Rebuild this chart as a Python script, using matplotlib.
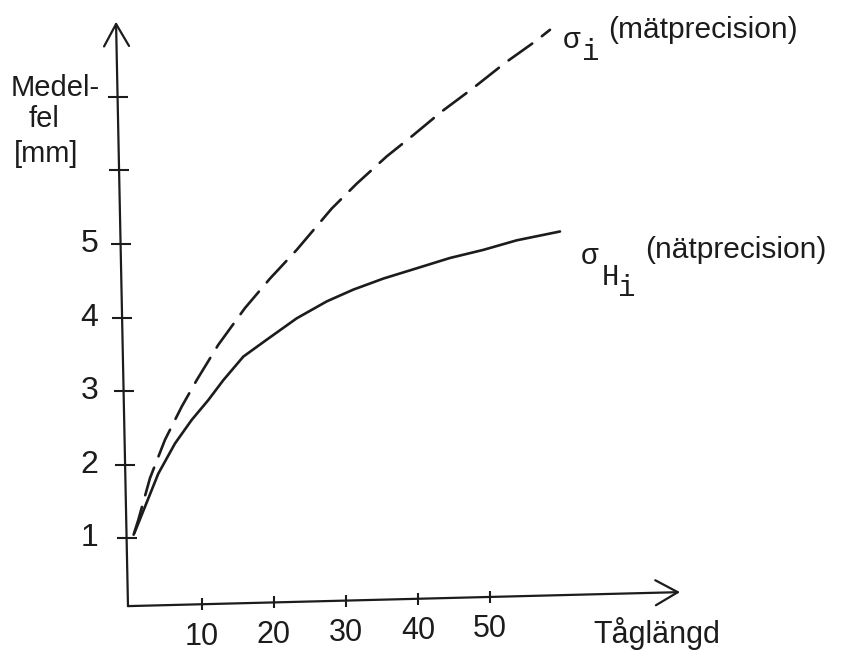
import matplotlib
matplotlib.use("Agg")
import matplotlib.pyplot as plt

plt.rcParams['font.family'] = ['Liberation Sans', 'DejaVu Sans']

# avlästa punkter ur figuren (x = tåglängd, y = medelfel i mm)
x_nat = [0.6, 2.08, 3.93, 6.25, 8.57, 10.88, 12.96, 15.74, 18.99, 23.15, 27.32,
         31.01, 35.18, 39.82, 44.44, 49.07, 53.71, 59.72]
y_nat = [1.07, 1.43, 1.88, 2.29, 2.61, 2.88, 3.15, 3.47, 3.70, 3.99, 4.22,
         4.38, 4.53, 4.67, 4.81, 4.92, 5.05, 5.17]

x_mat = [0.5, 1.15, 2.78, 4.86, 7.18, 9.26, 12.26, 15.97, 19.44, 23.15, 28.0,
         31.49, 35.65, 39.35, 43.29, 47.68, 52.08, 56.25, 58.33]
y_mat = [1.05, 1.25, 1.82, 2.34, 2.79, 3.15, 3.63, 4.13, 4.53, 4.92, 5.48,
         5.82, 6.19, 6.48, 6.80, 7.12, 7.46, 7.75, 7.91]

x_ticks = [10, 20, 30, 40, 50]
x_ticklabels = ["10", "20", "30", "40", "50"]
y_ticks = [1, 2, 3, 4, 5, 6, 7]
y_ticklabels = ["1", "2", "3", "4", "5", "", ""]

ink = '#1c1c1c'

fig = plt.figure(figsize=(8.41, 6.54), dpi=100)
ax = fig.add_axes([0, 0, 1, 1])
ax.set_xlim(-130 / 7.2, (841 - 130) / 7.2)
ax.set_ylim((612 - 654) / 73.6, 612 / 73.6)
ax.axis('off')

# handritade axlar, lite sneda
def yaxis_x(v):
    return -0.28 - 1.66 * (v - 0.08) / 7.94

def xaxis_y(x):
    return 0.08 + 0.19 * x / 76.4

arrow = dict(arrowstyle='->,head_length=0.8,head_width=0.45', lw=1.6, color=ink,
             shrinkA=0, shrinkB=0, mutation_scale=20)
ax.annotate('', xy=(yaxis_x(8.02), 8.02), xytext=(yaxis_x(0.08), 0.08), arrowprops=arrow)
ax.annotate('', xy=(76.4, xaxis_y(76.4)), xytext=(yaxis_x(0.08), 0.08), arrowprops=arrow)

# tickmarkeringar
ax.plot([yaxis_x(v) for v in y_ticks], y_ticks, ls='none', marker='_', ms=14, mew=1.5, color=ink)
ax.plot(x_ticks, [xaxis_y(x) for x in x_ticks], ls='none', marker='|', ms=9, mew=1.5, color=ink)

for v, lab in zip(y_ticks, y_ticklabels):
    ax.text(-5.6, v, lab, ha='center', va='center', fontsize=23, color=ink)
for x, lab in zip(x_ticks, x_ticklabels):
    ax.text(x, xaxis_y(x) - 0.44, lab, ha='center', va='center', fontsize=22, color=ink)

ax.text(73.1, -0.29, "Tåglängd", ha='center', va='center', fontsize=22, color=ink)
ax.text(-10.4, 7.12, "Medel-", ha='center', va='center', fontsize=21, color=ink)
ax.text(-11.9, 6.70, "fel", ha='center', va='center', fontsize=21, color=ink)
ax.text(-11.6, 6.22, "[mm]", ha='center', va='center', fontsize=21, color=ink)

# kurvorna
ax.plot(x_nat, y_nat, color=ink, lw=1.9, solid_capstyle='round', solid_joinstyle='round')
ax.plot(x_mat, y_mat, color=ink, lw=1.9, dashes=(11, 4.6), dash_capstyle='round')

mono = ['Liberation Mono', 'DejaVu Sans Mono']
ax.text(61.25, 7.77, "σ", family=mono, fontsize=21, ha='center', va='center', color=ink)
ax.text(64.0, 7.61, "i", family=mono, fontsize=21, ha='center', va='center', color=ink)
ax.text(66.4, 7.91, "(mätprecision)", fontsize=21.5, ha='left', va='center', color=ink)

ax.text(63.75, 4.84, "σ", family=mono, fontsize=21, ha='center', va='center', color=ink)
ax.text(66.7, 4.55, "H", family=mono, fontsize=21, ha='center', va='center', color=ink)
ax.text(69.0, 4.40, "i", family=mono, fontsize=21, ha='center', va='center', color=ink)
ax.text(71.5, 4.92, "(nätprecision)", fontsize=21.5, ha='left', va='center', color=ink)

fig.savefig("out.png", dpi=100)
